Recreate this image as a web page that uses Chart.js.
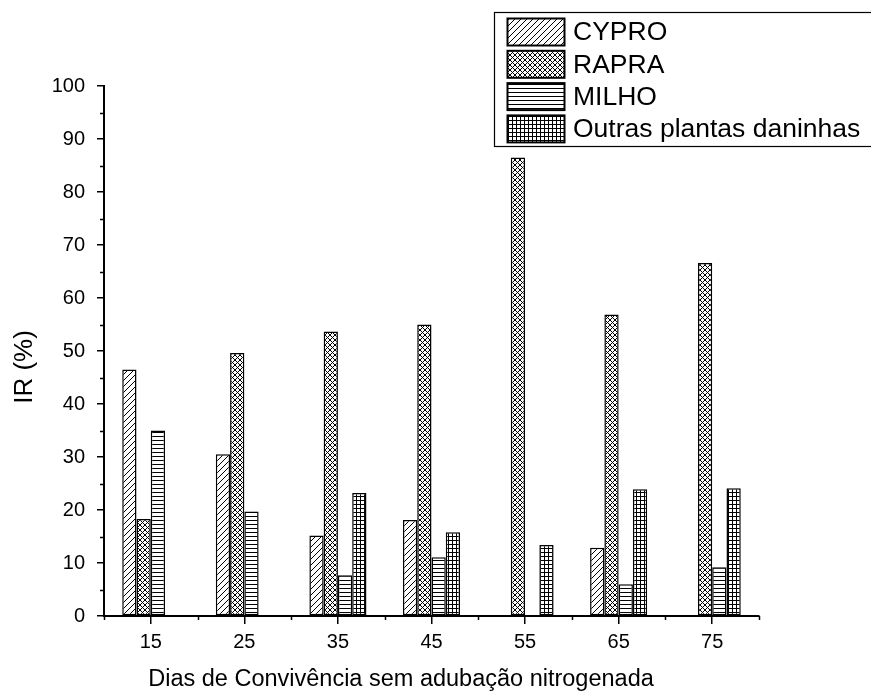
<!DOCTYPE html>
<html>
<head>
<meta charset="utf-8">
<script src="https://cdn.jsdelivr.net/npm/chart.js@4"></script>
<style>
  html, body { margin: 0; padding: 0; background: #fff; }
  #wrap { width: 871px; height: 696px; }
</style>
</head>
<body>
<div id="wrap"><canvas id="myChart" width="871" height="696"></canvas></div>
<script>
// dias de convivência (categorias do eixo x)
const dias = ['15', '25', '35', '45', '55', '65', '75'];

// IR (%) por espécie, null = sem barra
const cypro  = [46.5, 30.5, 15.2, 18.1, null, 12.9, null];
const rapra  = [18.3, 49.6, 53.7, 55.0, 86.5, 56.9, 66.6];
const milho  = [35.0, 19.7, 7.7, 11.1, null, 6.0, 9.2];
const outras = [null, null, 23.2, 15.8, 13.4, 23.9, 24.1];

const nomes = ['CYPRO', 'RAPRA', 'MILHO', 'Outras plantas daninhas'];
const yTicks = [0, 10, 20, 30, 40, 50, 60, 70, 80, 90, 100];

const FONT = '"Liberation Sans", Arial, sans-serif';

// hachuras
function makePattern(kind) {
  const s = kind === 'diag' ? 6 : (kind === 'cross' ? 5 : 4);
  const c = document.createElement('canvas');
  c.width = s; c.height = s;
  const g = c.getContext('2d');
  g.fillStyle = '#fff';
  g.fillRect(0, 0, s, s);
  g.strokeStyle = '#000';
  g.lineWidth = 1;
  g.beginPath();
  if (kind === 'diag' || kind === 'cross') {
    g.moveTo(-1, s + 1); g.lineTo(s + 1, -1);
    g.moveTo(-1, 1); g.lineTo(1, -1);
    g.moveTo(s - 1, s + 1); g.lineTo(s + 1, s - 1);
  }
  if (kind === 'cross') {
    g.moveTo(-1, -1); g.lineTo(s + 1, s + 1);
    g.moveTo(s - 1, -1); g.lineTo(s + 1, 1);
    g.moveTo(-1, s - 1); g.lineTo(1, s + 1);
  }
  if (kind === 'horiz' || kind === 'grid') {
    g.moveTo(0, 0.5); g.lineTo(s, 0.5);
  }
  if (kind === 'grid') {
    g.moveTo(0.5, 0); g.lineTo(0.5, s);
  }
  g.stroke();
  return g.createPattern(c, 'repeat');
}

const fills = [makePattern('diag'), makePattern('cross'), makePattern('horiz'), makePattern('grid')];

const series = [cypro, rapra, milho, outras];
const datasets = series.map((d, i) => ({
  label: nomes[i],
  data: d,
  backgroundColor: fills[i],
  borderColor: '#000',
  borderWidth: 1.5,
  borderSkipped: false,
  categoryPercentage: 0.61,
  barPercentage: 1.0
}));

// ticks menores, legenda e títulos
const extras = {
  id: 'extras',
  afterDraw(chart) {
    const ctx = chart.ctx;
    const x = chart.scales.x, y = chart.scales.y;
    const area = chart.chartArea;
    ctx.save();
    ctx.strokeStyle = '#000';
    ctx.lineWidth = 1.5;
    ctx.beginPath();
    // y: minor ticks
    for (let v = 5; v < 100; v += 10) {
      const py = Math.round(y.getPixelForValue(v)) + 0.5;
      ctx.moveTo(area.left, py); ctx.lineTo(area.left - 4, py);
    }
    // x: minor ticks entre categorias
    const n = dias.length;
    for (let i = 0; i <= n; i++) {
      const px = Math.round(x.getPixelForValue(i - 0.5)) + 0.5;
      ctx.moveTo(px, area.bottom); ctx.lineTo(px, area.bottom + 4);
    }
    ctx.stroke();

    // títulos
    ctx.fillStyle = '#000';
    ctx.textAlign = 'center';
    ctx.textBaseline = 'middle';
    ctx.font = '23.5px ' + FONT;
    ctx.fillText('Dias de Convivência sem adubação nitrogenada', 401, 680);
    ctx.font = '26px ' + FONT;
    ctx.translate(25, 367);
    ctx.rotate(-Math.PI / 2);
    ctx.fillText('IR (%)', 0, 0);
    ctx.restore();

    // legenda
    ctx.save();
    ctx.strokeStyle = '#000';
    ctx.lineWidth = 1.2;
    ctx.fillStyle = '#fff';
    ctx.fillRect(494.5, 12.5, 400, 134);
    ctx.strokeRect(494.5, 12.5, 400, 134);
    ctx.font = '26.5px ' + FONT;
    ctx.textAlign = 'left';
    ctx.textBaseline = 'middle';
    chart.data.datasets.forEach((ds, i) => {
      const top = 18.5 + i * 32.3;
      ctx.fillStyle = ds.backgroundColor;
      ctx.fillRect(507.5, top, 57, 27);
      ctx.lineWidth = 2;
      ctx.strokeRect(507.5, top, 57, 27);
      ctx.fillStyle = '#000';
      ctx.fillText(ds.label, 573, top + 14.5);
    });
    ctx.restore();
  }
};

new Chart(document.getElementById('myChart'), {
  type: 'bar',
  data: { labels: dias, datasets: datasets },
  options: {
    responsive: false,
    animation: false,
    layout: { padding: { left: 0, top: 86, right: 112, bottom: 0 } },
    plugins: { legend: { display: false }, tooltip: { enabled: false } },
    scales: {
      x: {
        grid: { display: true, drawOnChartArea: false, drawTicks: true, tickLength: 8, offset: false, color: '#000', lineWidth: 1.5 },
        border: { display: true, color: '#000', width: 2 },
        ticks: { color: '#000', font: { family: FONT, size: 20 }, padding: 6 },
        afterFit(s) { s.height = 80; }
      },
      y: {
        min: 0, max: 100,
        afterBuildTicks(s) { s.ticks = yTicks.map(v => ({ value: v })); },
        grid: { display: true, drawOnChartArea: false, drawTicks: true, tickLength: 7, color: '#000', lineWidth: 1.5 },
        border: { display: true, color: '#000', width: 2 },
        ticks: { color: '#000', font: { family: FONT, size: 20 }, padding: 12 },
        afterFit(s) { s.width = 104; }
      }
    }
  },
  plugins: [extras]
});
</script>
</body>
</html>
